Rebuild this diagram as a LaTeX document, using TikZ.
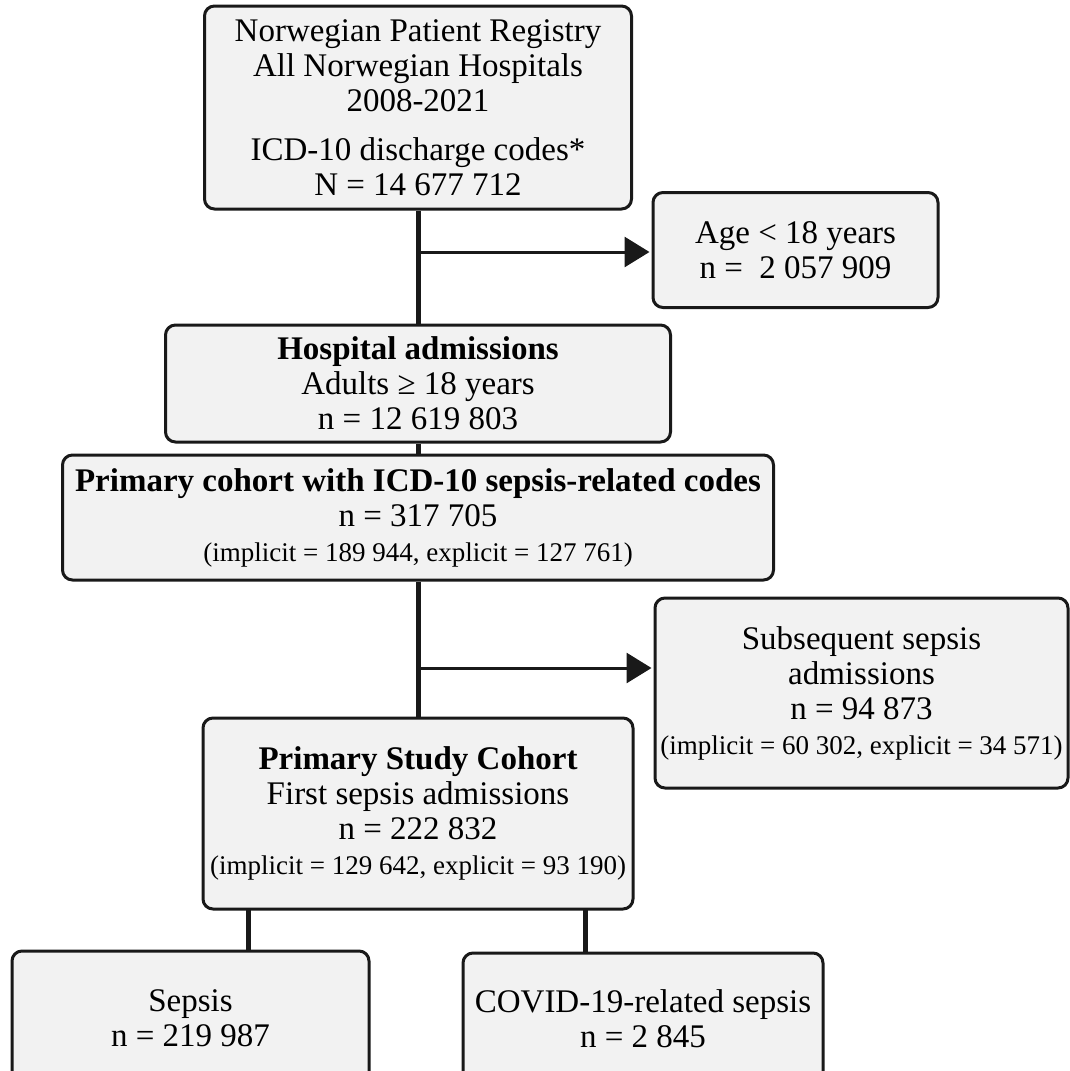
\documentclass[tikz,border=0pt]{standalone}
\usepackage{fontspec}
\setmainfont{Liberation Serif}
\usetikzlibrary{arrows.meta}
\newcommand{\smalltext}[1]{{\fontsize{27}{35}\selectfont #1}}

\begin{document}
\begin{tikzpicture}[
    x=1pt, y=-1pt,
    block/.style={rectangle, draw=black!90, line width=3pt, fill=black!5, rounded corners=10pt, align=center, inner sep=0pt, font=\fontsize{33}{35}\selectfont},
    line/.style={draw=black!90, line width=5pt},
    branch/.style={draw=black!90, line width=3pt, shorten >=2pt, -{Triangle[length=25pt,width=30pt]}}
]
    \useasboundingbox (0,0) rectangle (1069,1071);
    \node [block, minimum width=427pt, minimum height=203pt] (registry) at (418,107.5) {Norwegian Patient Registry\\All Norwegian Hospitals\\2008-2021\\[14pt]ICD-10 discharge codes*\\N = 14 677 712};
    \node [block, minimum width=285pt, minimum height=115pt] (age) at (795.5,250) {Age < 18 years\\n =\ \ 2 057 909};
    \node [block, minimum width=505pt, minimum height=117pt] (hospital) at (418,383.5) {\textbf{Hospital admissions}\\Adults ≥ 18 years\\n = 12 619 803};
    \node [block, minimum width=711pt, minimum height=125pt] (cohort) at (418,517.5) {\textbf{Primary cohort with ICD-10 sepsis-related codes}\\n = 317 705\\\smalltext{(implicit = 189 944, explicit = 127 761)}};
    \node [block, minimum width=413pt, minimum height=190pt] (subsequent) at (861.5,693) {Subsequent sepsis\\admissions\\n = 94 873\\\smalltext{(implicit = 60 302, explicit = 34 571)}};
    \node [block, minimum width=430pt, minimum height=191pt] (study) at (418,813.5) {\textbf{Primary Study Cohort}\\First sepsis admissions\\n = 222 832\\\smalltext{(implicit = 129 642, explicit = 93 190)}};
    \node [block, minimum width=357pt, minimum height=134pt] (sepsis) at (190.5,1018) {Sepsis\\n = 219 987};
    \node [block, minimum width=360pt, minimum height=132pt] (covid) at (643,1019) {COVID-19-related sepsis\\n = 2 845};

    \coordinate (agesplit) at (418,252);
    \coordinate (subsplit) at (418,668);
    \coordinate (sepsisleg) at (248,909);
    \coordinate (covidleg) at (585,909);

    \draw [line] (registry) -- (hospital);
    \draw [line] (hospital) -- (cohort);
    \draw [line] (cohort) -- (study);
    \draw [branch] (agesplit) -- (agesplit -| age.west);
    \draw [branch] (subsplit) -- (subsplit -| subsequent.west);
    \draw [line] (sepsisleg) -- (sepsisleg |- sepsis.north);
    \draw [line] (covidleg) -- (covidleg |- covid.north);
\end{tikzpicture}
\end{document}
